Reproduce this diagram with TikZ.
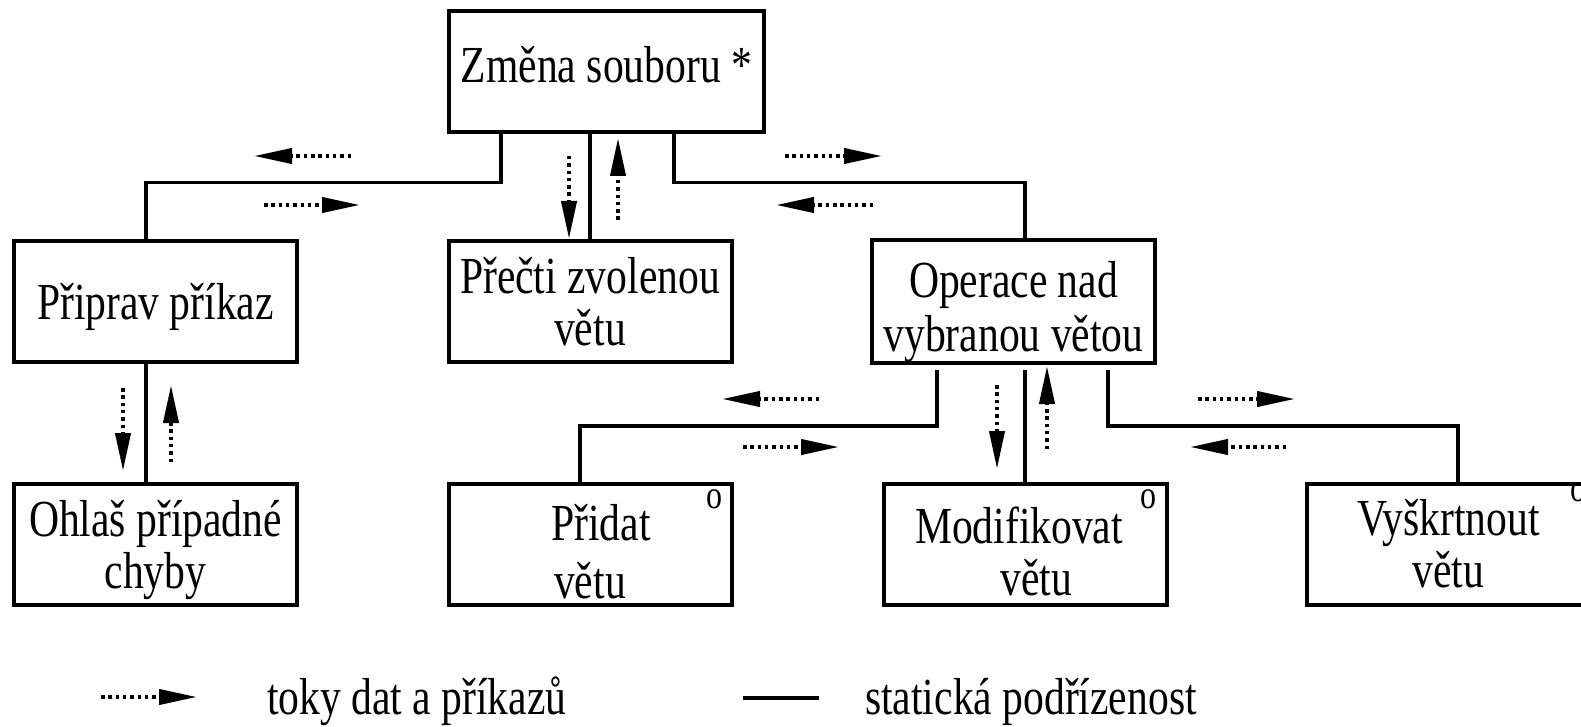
\documentclass[tikz,border=0pt]{standalone}
\usepackage{fontspec}
\setmainfont{Liberation Serif}[FakeStretch=0.8]
\usetikzlibrary{arrows.meta,calc}
\begin{document}
\begin{tikzpicture}[x=1pt,y=-1pt,
  box/.style={draw, line width=4pt, minimum width=283pt, minimum height=121pt,
    inner sep=0pt, align=center, font=\fontsize{52}{52}\selectfont},
  static/.style={line width=3.5pt},
  flow/.style={line width=4pt, dash pattern=on 3.5pt off 3.8pt,
    -{Triangle[length=38pt,width=15pt]}},
  supo/.style={font=\fontsize{40}{40}\selectfont, inner sep=0pt},
  legend/.style={anchor=base west, inner sep=0pt, font=\fontsize{52}{52}\selectfont}
]
\clip (0,0) rectangle (1581,727);
\fill[white] (0,0) rectangle (1581,727);

% boxes
\node[box, minimum width=315pt] (zmena) at (606.5,72) {Změna souboru *\rule[-16pt]{0pt}{16pt}};
\node[box] (pripr) at (155.5,301.5) {\rule{0pt}{48pt}Připrav příkaz};
\node[box] (pretec) at (590,301.5) {Přečti zvolenou\\větu};
\node[box] (oper) at (1013.5,301.5) {\rule{0pt}{58pt}Operace nad\\[2pt]vybranou větou};
\node[box] (ohlas) at (155.5,544) {\rule{0pt}{48pt}Ohlaš případné\\chyby};
\node[box] (pridat) at (590,544) {\rule{0pt}{52pt}\hspace*{22pt}Přidat\\[6pt]větu};
\node[box] (modif) at (1025,544) {\rule{0pt}{52pt}Modifikovat\hspace*{12pt}\\\hspace*{22pt}větu};
\node[box] (vysk) at (1448.5,544) {Vyškrtnout\\větu};

% selection marks
\node[supo] (o1) at ($(pridat.north east)+(-19,18)$) {o};
\node[supo] (o2) at ($(modif.north east)+(-20,18)$) {o};
\node[supo] (o3) at ($(vysk.north east)+(-14,11)$) {o};

% static subordination lines
\draw[static] ($(zmena.south west)+(54,0)$) -- ++(0,48) -| ([xshift=-9.5pt]pripr.north);
\draw[static] (pretec.north) -- (pretec.north |- zmena.south);
\draw[static] ($(zmena.south west)+(227,0)$) -- ++(0,48) -| ([xshift=11.5pt]oper.north);
\draw[static] ([xshift=-9.5pt]pripr.south) -- ([xshift=-9.5pt]ohlas.north);
\draw[static] ($(oper.south west)+(67,5)$) -- ($(oper.south west)+(67,61)$) -| ([xshift=-10pt]pridat.north);
\draw[static] ($(modif.north |- oper.south)+(0,5)$) -- (modif.north);
\draw[static] ($(oper.south west)+(238,5)$) -- ($(oper.south west)+(238,61)$) -| ($(vysk.north west)+(153,0)$);

% data / command flows
\draw[flow] (351,156) -- (254,156);
\draw[flow] (264,205) -- (360,205);
\draw[flow] (569,156) -- (569,239);
\draw[flow] (618,220) -- (618,138);
\draw[flow] (785,156) -- (882,156);
\draw[flow] (873,205) -- (776,205);
\draw[flow] (123,388) -- (123,471);
\draw[flow] (171,462) -- (171,385);
\draw[flow] (819,399) -- (722,399);
\draw[flow] (743,447) -- (839,447);
\draw[flow] (997,385) -- (997,469);
\draw[flow] (1047,449) -- (1047,366);
\draw[flow] (1198,399) -- (1295,399);
\draw[flow] (1286,447) -- (1190,447);

% legend
\draw[flow] (101,697) -- (197,697);
\node[legend] (l1) at (267,714) {toky dat a příkazů};
\draw[static] (743,698) -- (819,698);
\node[legend] (l2) at (865,714) {statická podřízenost};
\end{tikzpicture}
\end{document}
